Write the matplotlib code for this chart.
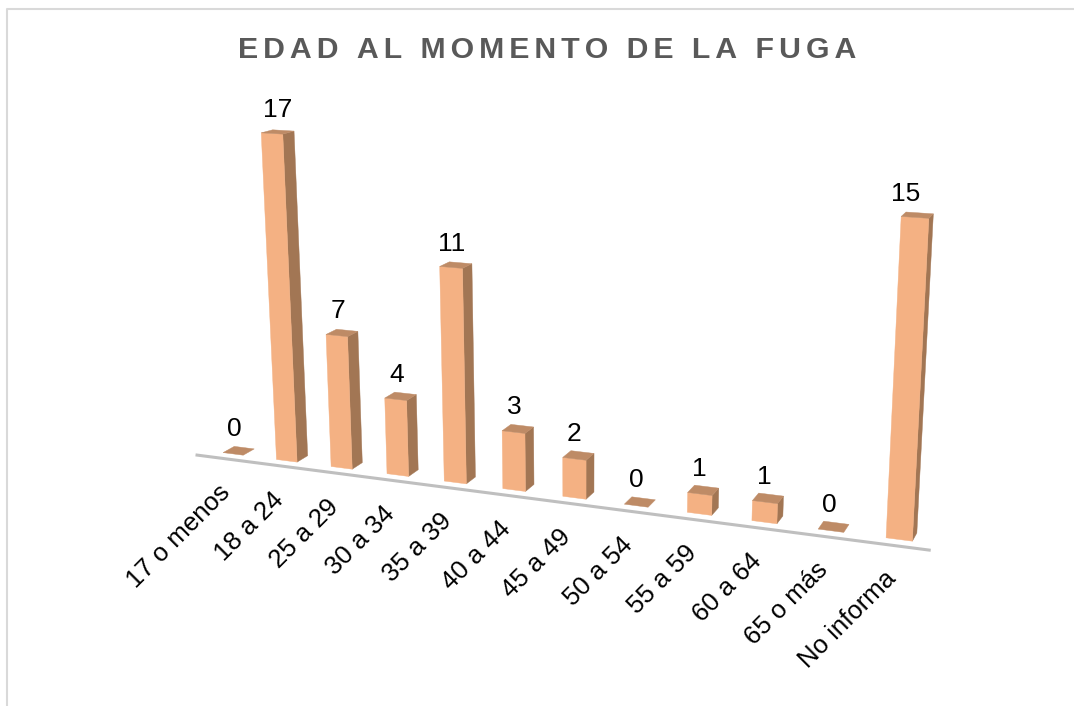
import numpy as np
import matplotlib
matplotlib.use('Agg')
import matplotlib.pyplot as plt

plt.rcParams['font.family'] = ['Liberation Sans', 'DejaVu Sans']

title = 'EDAD AL MOMENTO DE LA FUGA'
categories = ['17 o menos', '18 a 24', '25 a 29', '30 a 34', '35 a 39', '40 a 44',
              '45 a 49', '50 a 54', '55 a 59', '60 a 64', '65 o más', 'No informa']
values = [0, 17, 7, 4, 11, 3, 2, 0, 1, 1, 0, 15]

front_color = '#F4B183'
side_color = '#A27654'
top_color = '#BE8B66'
axis_color = '#BFBFBF'
border_color = '#D9D9D9'
half_width = 0.19

# camera fitted against the picture: x = category, y = depth, z = value
cam = np.array([[50.386321, 13.684494, -1.614743, 233.153692],
                [1.683974, -1.476103, -19.405383, 453.897281],
                [-0.011302, 0.010651, -0.002772, 1.0]])

def project(x, y, z):
    u, v, s = cam @ np.array([x, y, z, 1.0])
    return u / s, v / s

def face(ax, corners, color):
    ax.fill(*zip(*[project(*c) for c in corners]), color=color, lw=0.3, zorder=2)

fig = plt.figure(figsize=(10.74, 7.06), dpi=100)
ax = fig.add_axes([0, 0, 1, 1])
ax.set_xlim(0, 1074)
ax.set_ylim(706, 0)
ax.axis('off')

# chart frame, cut off by the crop on the right and at the bottom
ax.plot([7, 7, 1074], [706, 9, 9], color=border_color, lw=1.5, zorder=1)

# floor line
line = [project(x, -0.75, 0) for x in (-0.55, 11.5)]
ax.plot(*zip(*line), color=axis_color, lw=2.2, solid_capstyle='butt', zorder=1)

for i, val in enumerate(values):
    x0, x1 = i - half_width, i + half_width
    if val > 0:
        face(ax, [(x1, 0, 0), (x1, 1, 0), (x1, 1, val), (x1, 0, val)], side_color)
        face(ax, [(x0, 0, 0), (x1, 0, 0), (x1, 0, val), (x0, 0, val)], front_color)
    face(ax, [(x0, 0, val), (x1, 0, val), (x1, 1, val), (x0, 1, val)], top_color)

    # value label sits above the middle of the bar top
    u, v = project(i, 0.5, val)
    nudge = {1: 4, 11: -8}.get(i, 0)
    ax.text(u - 4 + nudge, v - 21.5, str(val), fontsize=19, color='black',
            ha='center', va='center')

    # category label ends just under the bar foot
    u, v = project(i, 0, 0)
    ax.text(u - 7, v + 35, categories[i], fontsize=18.5, color='black', rotation=45,
            rotation_mode='anchor', ha='right', va='center')

spaced = '\u200a\u200a'.join(title)
ax.text(547, 50, spaced, fontsize=21.8, fontweight='bold', color='#595959',
        ha='center', va='center')

fig.savefig('out.png', dpi=100)
